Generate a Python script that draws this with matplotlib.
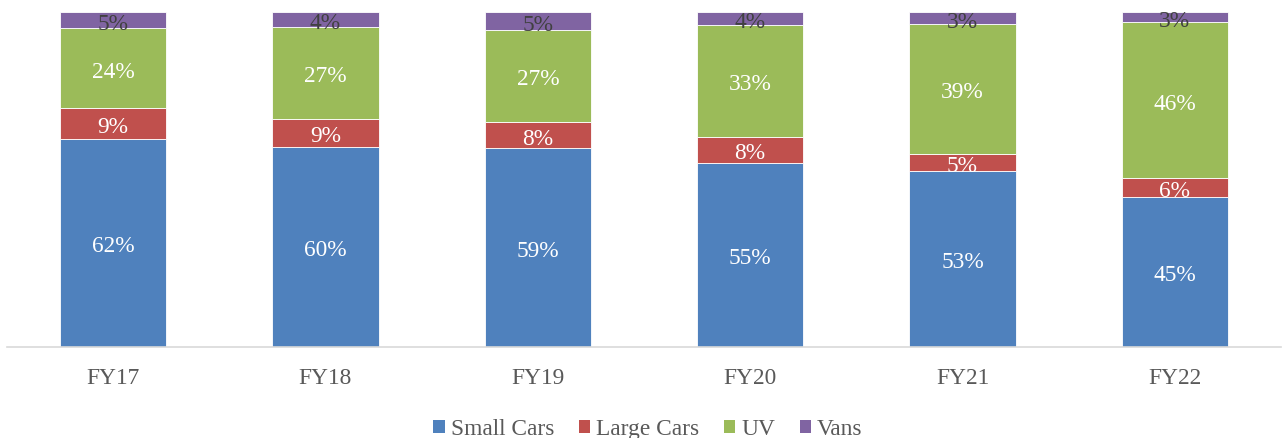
import matplotlib
matplotlib.use("Agg")
import matplotlib.pyplot as plt
import matplotlib.transforms as mtransforms
import numpy as np
from matplotlib.patches import Patch

categories = ["FY17", "FY18", "FY19", "FY20", "FY21", "FY22"]
# segment shares (%)
small_cars = [62.0, 59.8, 59.3, 54.8, 52.4, 44.6]
large_cars = [9.3, 8.4, 7.9, 8.0, 5.3, 5.8]
uv = [24.0, 27.4, 27.5, 33.4, 38.8, 46.6]
vans = [4.7, 4.4, 5.3, 3.8, 3.5, 3.0]
# data labels as printed on the chart
small_cars_labels = ["62%", "60%", "59%", "55%", "53%", "45%"]
large_cars_labels = ["9%", "9%", "8%", "8%", "5%", "6%"]
uv_labels = ["24%", "27%", "27%", "33%", "39%", "46%"]
vans_labels = ["5%", "4%", "5%", "4%", "3%", "3%"]

series_names = ["Small Cars", "Large Cars", "UV", "Vans"]
series = [small_cars, large_cars, uv, vans]
series_labels = [small_cars_labels, large_cars_labels, uv_labels, vans_labels]
colors = ["#4F81BD", "#C0504D", "#9BBB59", "#8064A2"]
label_colors = ["white", "white", "white", "#404040"]

plt.rcParams['font.family'] = ['Liberation Serif', 'DejaVu Serif']

fig = plt.figure(figsize=(12.82, 4.39), dpi=100)
ax = fig.add_axes([7/1282, 91.5/439, 1274/1282, (347.5-13.3)/439])

data = np.array(series, dtype=float)
totals = data.sum(axis=0)
shares = data / totals * 100  # 100% stacked
x = np.arange(len(categories))
bottom = np.zeros(len(categories))
text_tr = mtransforms.offset_copy(ax.transData, fig=fig, x=0, y=-3, units='dots')
for vals, labs, c, lc in zip(shares, series_labels, colors, label_colors):
    ax.bar(x, vals, 0.5, bottom=bottom, color=c, edgecolor="white", linewidth=0.6)
    for xi, b, v, t in zip(x, bottom, vals, labs):
        ax.text(xi, b + v / 2, t, ha="center", va="center",
                color=lc, fontsize=16.8, transform=text_tr)
    bottom += vals

ax.set_xlim(-0.5, len(categories) - 0.5)
ax.set_ylim(0, 100)
ax.set_yticks([])
ax.set_xticks(x)
ax.set_xticklabels(categories, fontsize=16.8, color="#595959")
ax.tick_params(axis="x", length=0, pad=15)
for s in ["top", "left", "right"]:
    ax.spines[s].set_visible(False)
ax.spines["bottom"].set_color("#D9D9D9")
ax.spines["bottom"].set_linewidth(1.2)

handles = [Patch(facecolor=c, edgecolor="none") for c in colors]
leg = fig.legend(handles, series_names, loc="center", bbox_to_anchor=(648/1282, 1 - 430/439),
                 ncol=4, frameon=False, fontsize=16.8, handlelength=0.5, handleheight=0.5,
                 handletextpad=0.25, columnspacing=1.05, labelcolor="#595959")

fig.savefig("out.png", dpi=100)
